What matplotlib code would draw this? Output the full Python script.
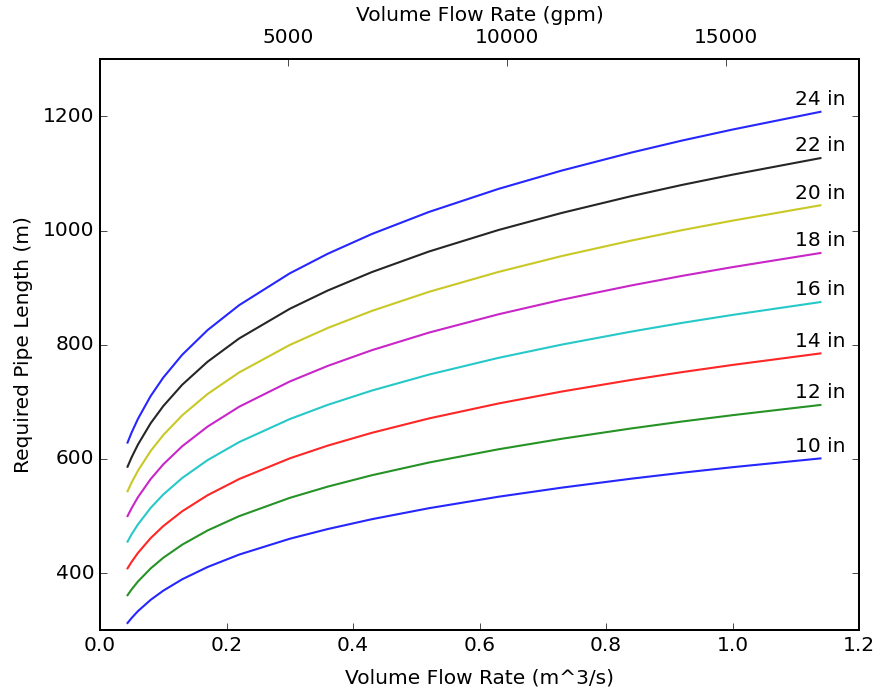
import numpy as np
import matplotlib
matplotlib.use("Agg")
import matplotlib.pyplot as plt

plt.style.use("classic")
plt.rcParams["axes.linewidth"] = 1.4
plt.rcParams["xtick.major.size"] = 5
plt.rcParams["ytick.major.size"] = 5

# Volume flow rate samples (m^3/s)
flow_m3s = [0.0435, 0.05, 0.06, 0.08, 0.10, 0.13, 0.17, 0.22, 0.30, 0.36,
            0.43, 0.52, 0.63, 0.73, 0.84, 0.92, 1.00, 1.139]

# Required pipe length (m) for each pipe diameter
len_10in = [312.8, 321.6, 333.6, 353.3, 369.4, 389.4, 410.8, 432.6, 460.3, 477.3,
            494.6, 513.8, 533.9, 549.8, 565.5, 575.9, 585.6, 601.0]
len_12in = [361.5, 371.7, 385.5, 408.3, 427.0, 450.0, 474.8, 499.9, 531.9, 551.6,
            571.6, 593.8, 617.0, 635.4, 653.5, 665.6, 676.7, 694.6]
len_14in = [408.5, 420.0, 435.6, 461.4, 482.5, 508.5, 536.5, 564.9, 601.1, 623.4,
            645.9, 671.0, 697.2, 718.1, 738.5, 752.1, 764.7, 784.9]
len_16in = [455.3, 468.2, 485.5, 514.3, 537.8, 566.8, 598.0, 629.6, 669.9, 694.8,
            719.9, 747.8, 777.1, 800.3, 823.1, 838.3, 852.3, 874.8]
len_18in = [500.0, 514.1, 533.2, 564.8, 590.6, 622.4, 656.7, 691.5, 735.7, 763.0,
            790.6, 821.3, 853.4, 878.9, 903.9, 920.6, 936.0, 960.7]
len_20in = [543.5, 558.9, 579.6, 613.9, 641.9, 676.5, 713.8, 751.6, 799.7, 829.4,
            859.4, 892.7, 927.6, 955.4, 982.5, 1000.7, 1017.4, 1044.3]
len_22in = [586.5, 603.1, 625.4, 662.5, 692.7, 730.1, 770.3, 811.1, 863.0, 895.0,
            927.4, 963.3, 1001.0, 1030.9, 1060.3, 1079.9, 1097.9, 1126.9]
len_24in = [628.7, 646.5, 670.4, 710.2, 742.6, 782.6, 825.7, 869.4, 925.1, 959.4,
            994.1, 1032.6, 1073.0, 1105.1, 1136.6, 1157.6, 1176.9, 1208.0]

diameter_labels = ["10 in", "12 in", "14 in", "16 in", "18 in", "20 in", "22 in", "24 in"]
series = [len_10in, len_12in, len_14in, len_16in, len_18in, len_20in, len_22in, len_24in]
colors = ["b", "g", "r", "c", "m", "y", "k", "b"]

GPM_PER_M3S = 15850.32
FS = 14.5

fig = plt.figure(figsize=(8.76, 6.94), dpi=100, facecolor="white")
ax = fig.add_axes([0.1142, 0.0918, 0.8664, 0.8228])

q = np.array(flow_m3s)
for lbl, vals, c in zip(diameter_labels, series, colors):
    ax.plot(q, vals, color=c, linewidth=1.5, alpha=0.85)
    ax.annotate(lbl, xy=(q[-1], vals[-1]), xytext=(0, 2), textcoords="offset points",
                ha="center", va="bottom", fontsize=FS)

ax.set_xlim(0, 1.2)
ax.set_ylim(300, 1300)
ax.set_yticks([400, 600, 800, 1000, 1200])
ax.set_xlabel("Volume Flow Rate (m^3/s)", fontsize=FS, labelpad=10)
ax.set_ylabel("Required Pipe Length (m)", fontsize=FS, labelpad=7)
ax.tick_params(labelsize=FS)

ax2 = ax.twiny()
ax2.set_xlim(q.min() * GPM_PER_M3S, q.max() * GPM_PER_M3S)
ax2.set_xticks([5000, 10000, 15000])
ax2.set_xlabel("Volume Flow Rate (gpm)", fontsize=FS, labelpad=5)
ax2.tick_params(labelsize=FS, pad=9)

fig.savefig("out.png", dpi=100, facecolor="white")
